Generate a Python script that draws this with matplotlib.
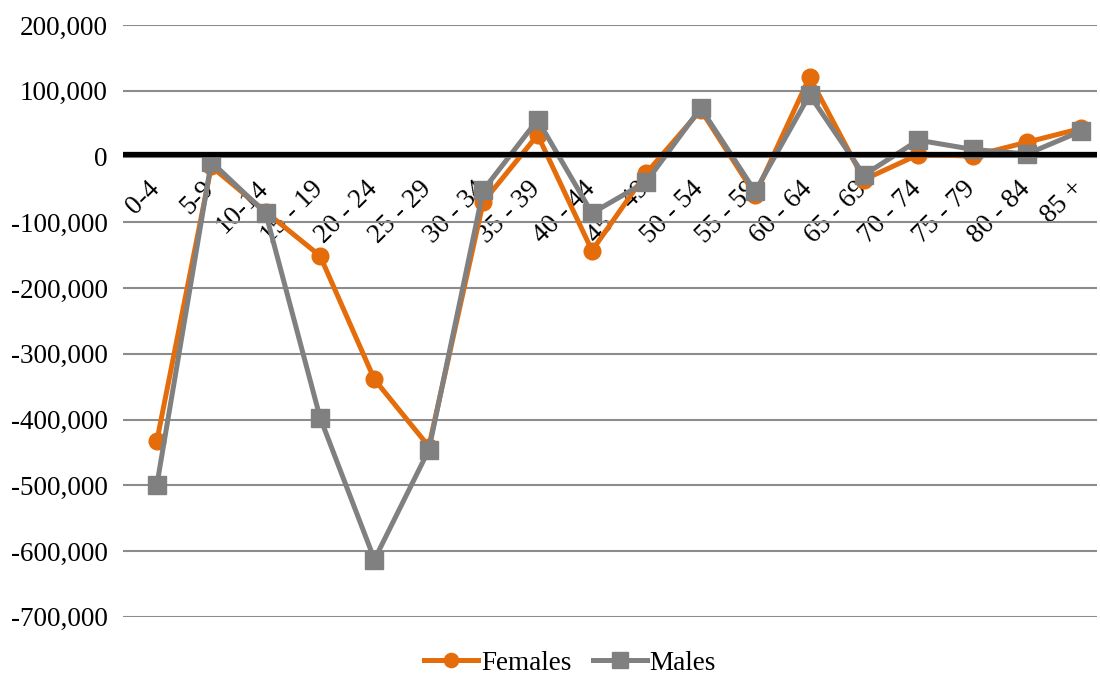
import matplotlib
matplotlib.use("Agg")
import matplotlib.pyplot as plt
import matplotlib.transforms as mtransforms
from matplotlib.ticker import FuncFormatter, MultipleLocator

categories = ["0-4", "5-9", "10-14", "15 - 19", "20 - 24", "25 - 29", "30 - 34", "35 - 39",
              "40 - 44", "45 - 49", "50 - 54", "55 - 59", "60 - 64", "65 - 69", "70 - 74",
              "75 - 79", "80 - 84", "85 +"]
females = [-432000, -15000, -84000, -151000, -339000, -441000, -69000, 33000,
           -143000, -25000, 71000, -58000, 121000, -35000, 3000, 1000, 22000, 43000]
males = [-499000, -8000, -86000, -397000, -613000, -446000, -51000, 56000,
         -86000, -38000, 74000, -53000, 94000, -28000, 25000, 11000, 4000, 39000]

plt.rcParams['font.family'] = ['Liberation Serif', 'DejaVu Serif']

fig = plt.figure(figsize=(11, 6.8), dpi=100)
ax = fig.add_axes([0.112, 0.093, 0.885, 0.870])

x = list(range(len(categories)))
ax.plot(x, females, color='#E46C0A', lw=3.6, marker='o', markersize=12, label='Females', zorder=3)
ax.plot(x, males, color='#808080', lw=3.6, marker='s', markersize=13, label='Males', zorder=4)

ax.set_ylim(-700000, 200000)
ax.set_xlim(-0.62, 17.28)
ax.yaxis.set_major_locator(MultipleLocator(100000))
ax.yaxis.set_major_formatter(FuncFormatter(lambda v, p: f"{v:,.0f}"))
ax.grid(axis='y', color='#8c8c8c', lw=1.5, zorder=0)
ax.axhline(4500, color='black', lw=3.8, zorder=5)

for s in ['left', 'right', 'top']:
    ax.spines[s].set_visible(False)
ax.spines['bottom'].set_position(('data', 0))
ax.spines['bottom'].set_visible(False)

ax.set_xticks(x)
ax.set_xticklabels(categories, rotation=45, ha='right', va='top', fontsize=19.5)
ax.tick_params(axis='x', length=0, pad=14)
ax.tick_params(axis='y', length=0, labelsize=19.5, pad=11)
offset = mtransforms.ScaledTranslation(8 / 100, 0, fig.dpi_scale_trans)
for lbl in ax.get_xticklabels():
    lbl.set_transform(lbl.get_transform() + offset)

ax.legend(loc='lower center', bbox_to_anchor=(0.459, -0.132), ncol=2, frameon=False,
          fontsize=19.5, handlelength=2.0, handletextpad=0.1, columnspacing=0.8,
          markerscale=0.85, borderaxespad=0.3)

fig.savefig('out.png', dpi=100)
